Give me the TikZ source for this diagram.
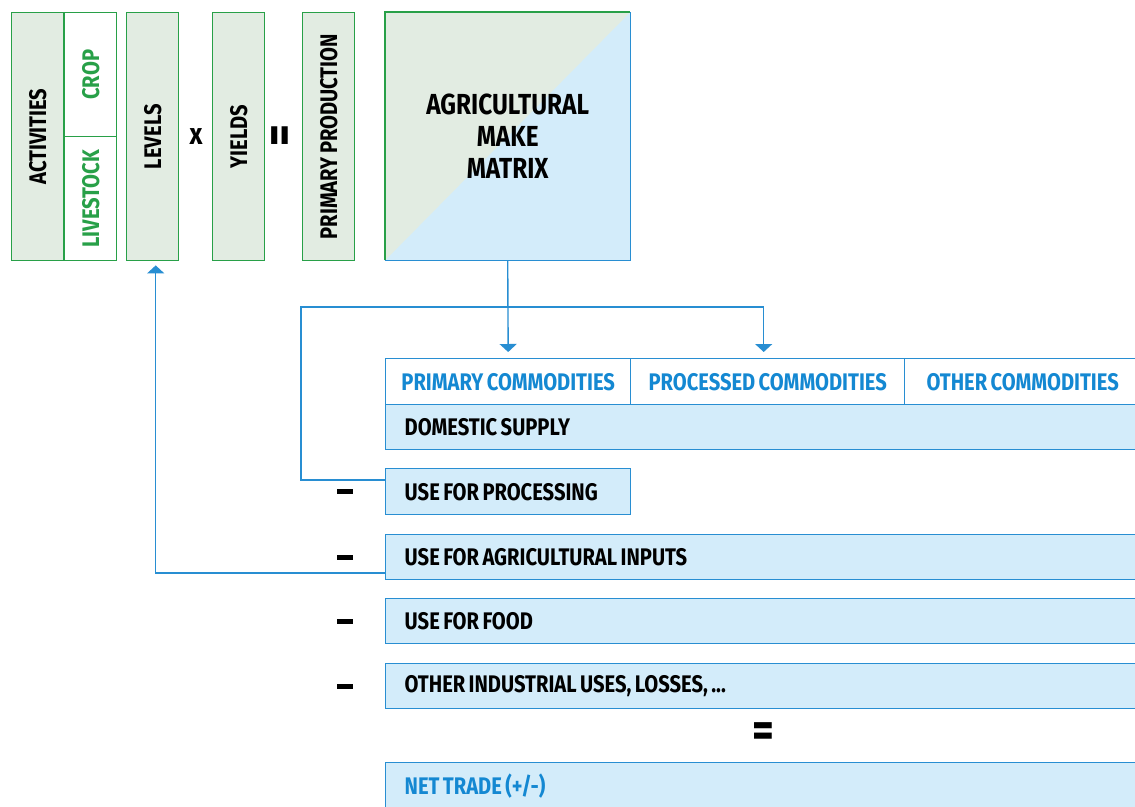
\documentclass[tikz,border=0pt]{standalone}
\usepackage{fontspec}
\setmainfont{Fira Sans}[FakeStretch=0.84,WordSpace=0.72]
\usetikzlibrary{arrows.meta,calc,positioning}
\definecolor{agrgreen}{RGB}{40,160,72}
\definecolor{agrgreenbg}{RGB}{226,236,226}
\definecolor{agrblue}{RGB}{40,142,210}
\definecolor{agrbluebg}{RGB}{211,236,250}
\definecolor{agrbluetxt}{RGB}{20,136,210}
\tikzset{
  grnbox/.style={draw=agrgreen,fill=agrgreenbg,line width=1.4pt,anchor=north west,inner sep=0pt,
    minimum width=52pt,minimum height=248pt},
  vtext/.style={rotate=90,font=\fontsize{24}{28}\selectfont\bfseries},
  hdr/.style={draw=agrblue,fill=white,line width=1.4pt,anchor=north west,inner sep=0pt,
    minimum height=46pt,text=agrbluetxt},
  row/.style={draw=agrblue,fill=agrbluebg,line width=1.4pt,anchor=north west,inner xsep=19pt,
    inner ysep=0pt,minimum height=45pt,text width=717pt,align=flush left},
  flow/.style={draw=agrblue,line width=1.4pt},
  minus/.style={fill=black,inner sep=0pt,minimum width=16pt,minimum height=5pt},
  opsign/.style={font=\fontsize{50}{50}\selectfont\bfseries,inner sep=0pt}
}
\begin{document}
\begin{tikzpicture}[x=1pt,y=-1pt,>={Triangle[width=17pt,length=8pt]},
  font=\fontsize{24}{28}\selectfont\bfseries]
\clip (0,0) rectangle (1135,806);
\fill[white] (0,0) rectangle (1135,806);
% activities, levels, yields
\node[grnbox,label={[vtext]center:ACTIVITIES}] (act) at (11,12) {};
\node[grnbox,fill=white,minimum height=124pt,label={[vtext,text=agrgreen]center:CROP}] (crop) at (64,12) {};
\node[grnbox,fill=white,minimum height=124pt,label={[vtext,text=agrgreen]center:LIVESTOCK}] (live) at (64,136) {};
\node[grnbox,label={[vtext]center:LEVELS}] (lev) at (126,12) {};
\node[font=\fontsize{30}{30}\selectfont\bfseries] (times) at (196,137) {x};
\node[grnbox,label={[vtext]center:YIELDS}] (yld) at (212,12) {};
\node[opsign,rotate=90] (eqa) at (284,136) {=};
\node[grnbox,label={[vtext]center:PRIMARY PRODUCTION}] (prod) at (302,12) {};
% make matrix
\node[anchor=north west,inner sep=0pt,minimum width=245pt,minimum height=248pt,fill=agrbluebg,
  align=center,font=\fontsize{29}{32}\selectfont\bfseries,
  path picture={\fill[agrgreenbg] (path picture bounding box.north west) -- (path picture bounding box.north east)
    -- (path picture bounding box.south west) -- cycle;}] (mat) at (385,12) {AGRICULTURAL\\MAKE\\MATRIX};
\draw[agrgreen,line width=1.4pt] (mat.south west) -- (mat.north west) -- (mat.north east);
\draw[agrblue,line width=1.4pt] (mat.north east) -- (mat.south east) -- (mat.south west);
% commodities
\node[hdr,minimum width=245pt] (pc) at (385,358) {PRIMARY COMMODITIES};
\node[hdr,minimum width=274pt] (prc) at (630,358) {PROCESSED COMMODITIES};
\node[hdr,minimum width=236pt] (oc) at (904,358) {OTHER COMMODITIES};
% balance rows
\node[row] (dom) at (385,404) {DOMESTIC SUPPLY};
\node[row,text width=207pt,minimum height=46pt] (proc) at (385,468) {USE FOR PROCESSING};
\node[row] (inp) at (385,534) {USE FOR AGRICULTURAL INPUTS};
\node[row] (food) at (385,598) {USE FOR FOOD};
\node[row] (oth) at (385,663) {OTHER INDUSTRIAL USES, LOSSES, ...};
\node[opsign] (eqb) at (763,735) {=};
\node[row,text=agrbluetxt,minimum height=46pt] (net) at (385,762) {NET TRADE (+/-)};
\foreach \r in {proc,inp,food,oth}
  \node[minus] (m\r) at ($(\r.west)+(-40,0)$) {};
% connectors
\coordinate (loopl) at (301,307);
\coordinate (prcin) at ($(prc.north)+(-4,0)$);
\coordinate (procw) at ($(proc.north west)!0.25!(proc.south west)$);
\coordinate (inpw) at ($(inp.north west)!0.84!(inp.south west)$);
\draw[flow,->,shorten >=6pt] (mat.south) -- (pc.north);
\draw[flow,->,shorten >=6pt] (procw) -| (loopl) -| (prcin);
\draw[flow,->,shorten >=4pt] (inpw) -| ($(lev.south)+(3,0)$);
\end{tikzpicture}
\end{document}
